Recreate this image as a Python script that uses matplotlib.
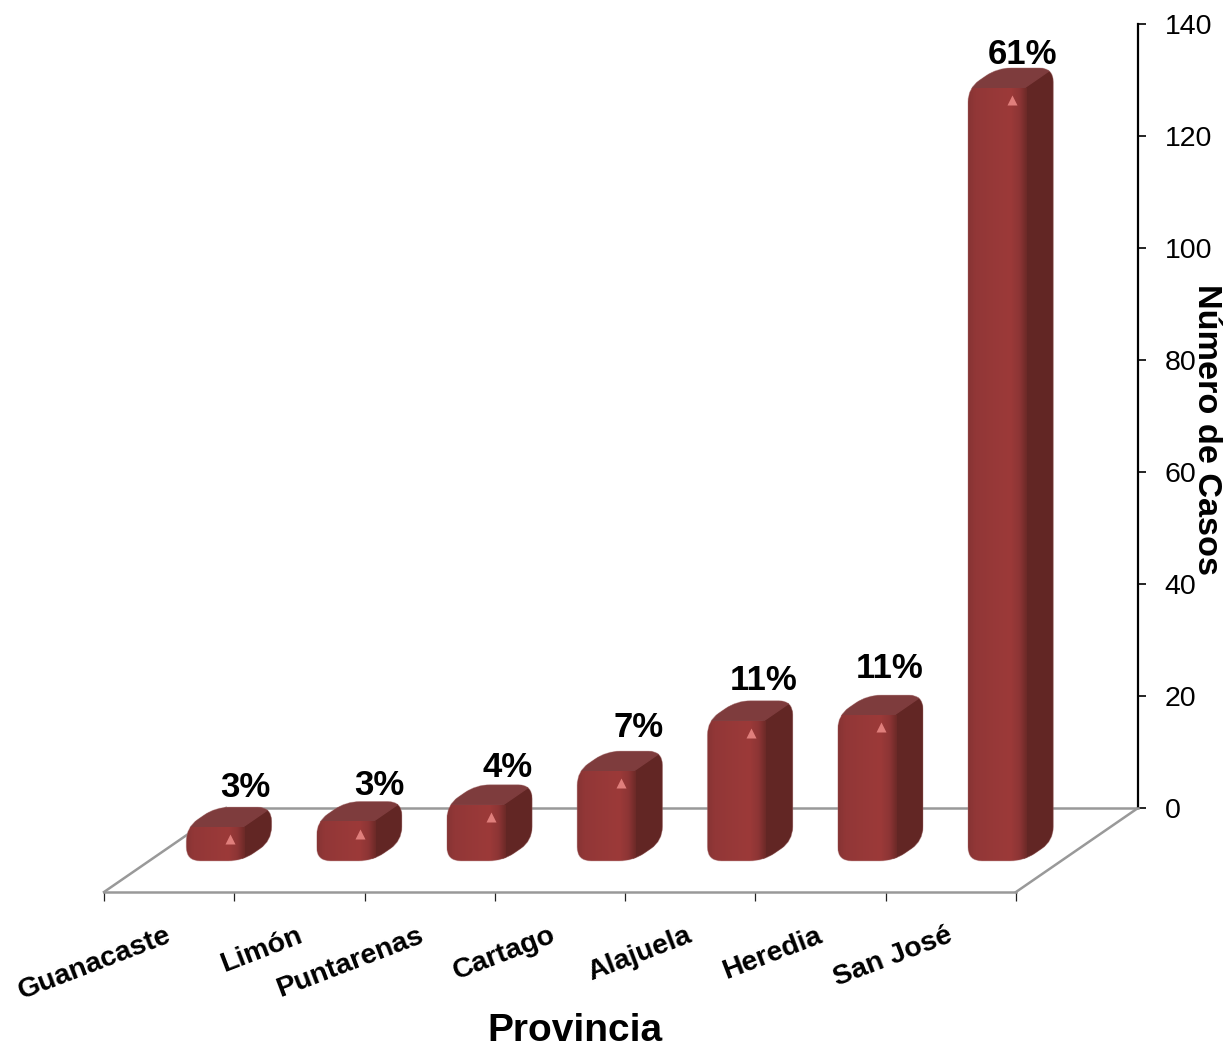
import numpy as np
import matplotlib
matplotlib.use('Agg')
import matplotlib.pyplot as plt
from matplotlib.path import Path
from matplotlib.patches import PathPatch, Polygon
from matplotlib.colors import LinearSegmentedColormap
from matplotlib.transforms import IdentityTransform

provincias = ['Guanacaste', 'Limón', 'Puntarenas', 'Cartago', 'Alajuela', 'Heredia', 'San José']
casos = [6, 7, 10, 16, 25, 26, 138]
porcentajes = ['3%', '3%', '4%', '7%', '11%', '11%', '61%']
y_ticks = [0, 20, 40, 60, 80, 100, 120, 140]

plt.rcParams['font.family'] = ['Liberation Sans', 'DejaVu Sans']

W, H = 1227, 1048
fig = plt.figure(figsize=(W / 100, H / 100), dpi=100)
px = IdentityTransform()

# depth of the floor in pixels, back wall to front edge
DEPTH_X, DEPTH_Y = 122, 84

# back wall axes, holds the value scale
ax = fig.add_axes([226 / W, (H - 808) / H, 912 / W, 784 / H])
ax.set_xlim(0, 7)
ax.set_ylim(0, 140)
ax.set_autoscale_on(False)
ax.patch.set_visible(False)
for s in ['left', 'top']:
    ax.spines[s].set_visible(False)
ax.spines['bottom'].set_color('#999999')
ax.spines['bottom'].set_linewidth(1.8)
ax.spines['right'].set_linewidth(1.6)
ax.set_xticks([])
ax.yaxis.tick_right()
ax.set_yticks(y_ticks)
ax.tick_params(axis='y', labelsize=20.5, length=6, width=1.2, pad=13)

# front edge axes, holds the category ticks
ax2 = fig.add_axes([104 / W, (H - 892) / H, 912 / W, 0.001])
ax2.set_xlim(0, 7)
ax2.patch.set_visible(False)
for s in ['left', 'top', 'right']:
    ax2.spines[s].set_visible(False)
ax2.spines['bottom'].set_color('#999999')
ax2.spines['bottom'].set_linewidth(1.8)
ax2.set_yticks([])
ax2.set_xticks(range(8))
ax2.set_xticklabels([])
ax2.tick_params(axis='x', length=6.5, width=0.9, color='#222222')


def project(x, v, d):
    p = ax.transData.transform((x, v))
    return p[0] - d * DEPTH_X, p[1] - d * DEPTH_Y


# side lines of the floor
for x in [0, 7]:
    p0 = project(x, 0, 0)
    p1 = project(x, 0, 1)
    ax.plot([p0[0], p1[0]], [p0[1], p1[1]], color='#999999', lw=1.8, transform=px, clip_on=False, zorder=1)


def rounded(points, r):
    verts, codes = [], []
    n = len(points)
    for i in range(n):
        p = np.array(points[i], float)
        a = np.array(points[i - 1], float)
        b = np.array(points[(i + 1) % n], float)
        ra = min(r, np.linalg.norm(a - p) / 2)
        rb = min(r, np.linalg.norm(b - p) / 2)
        start = p + (a - p) / np.linalg.norm(a - p) * ra
        end = p + (b - p) / np.linalg.norm(b - p) * rb
        verts.append(start)
        codes.append(Path.MOVETO if i == 0 else Path.LINETO)
        verts += [p, end]
        codes += [Path.CURVE3, Path.CURVE3]
    verts.append(verts[0])
    codes.append(Path.CLOSEPOLY)
    return Path(verts, codes)


shade = LinearSegmentedColormap.from_list('front', [(0, '#863434'), (0.12, '#923737'), (0.72, '#9c3a39'),
                                                    (0.88, '#8d3535'), (1, '#6e2a28')])
BAR_W = 0.43
D_FRONT, D_BACK = 0.63, 0.39

for i, v in enumerate(casos):
    x0 = i + 0.5 - BAR_W / 2
    x1 = i + 0.5 + BAR_W / 2
    a = project(x0, 0, D_FRONT)
    b = project(x1, 0, D_FRONT)
    c = project(x1, 0, D_BACK)
    d = project(x1, v, D_BACK)
    e = project(x0, v, D_BACK)
    f = project(x0, v, D_FRONT)
    g = project(x1, v, D_FRONT)
    outline = rounded([a, b, c, d, e, f], 14)

    side = Polygon([b, c, d, g], closed=True, fc='#622624', ec='#622624', transform=px, zorder=3)
    top = Polygon([f, g, d, e], closed=True, fc='#7e3c3d', ec='#7e3c3d', transform=px, zorder=3)
    ax.add_patch(side)
    ax.add_patch(top)

    im = ax.imshow(np.linspace(0, 1, 64).reshape(1, -1), cmap=shade, aspect='auto',
                   extent=(a[0], b[0] + 2, a[1], f[1]), transform=px, zorder=4)

    for art in [side, top, im]:
        art.set_clip_box(fig.bbox)
        art.set_clip_path(outline, px)

    ax.add_patch(PathPatch(outline, fc='none', ec='#a87070', lw=0.7, alpha=0.35, transform=px, zorder=5, clip_on=False))

    # little glint at the top of the front face
    ax.plot(a[0] + 0.78 * (b[0] - a[0]), f[1] - 12, marker='^', ms=7, mfc='#e07f7c', mec='none',
            transform=px, zorder=6, clip_on=False)

# label offsets from the left and the top of each bar, pixels
label_dx = [59, 63, 61, 61, 56, 52, 55]
label_dy = [20, 16, 17, 24, 20, 27, 13]
for i, v in enumerate(casos):
    xl = project(i + 0.5 - BAR_W / 2, 0, D_FRONT)[0]
    yt = project(0, v, D_BACK)[1]
    ax.text(xl + label_dx[i], yt + label_dy[i], porcentajes[i], transform=px, ha='center', va='center',
            fontsize=25, fontweight='bold', clip_on=False, zorder=7)

# category labels end under the middle of each slot, nudged in pixels
label_shift = [-6, -6, -15, -13, -7, -7, -7]
for i, name in enumerate(provincias):
    ax2.annotate(name, xy=(i + 0.5, 0), xycoords=('data', 'axes fraction'),
                 xytext=(2 + label_shift[i] * 0.72, -22), textcoords='offset points',
                 ha='right', va='top', rotation=21, rotation_mode='anchor',
                 fontsize=20.5, fontweight='bold', annotation_clip=False)

fig.text(575 / W, 1 - 1031 / H, 'Provincia', ha='center', va='center', fontsize=28, fontweight='bold')
fig.text(1206 / W, 1 - 430 / H, 'Número de Casos', ha='center', va='center', rotation=-90,
         fontsize=24.7, fontweight='bold')

fig.savefig('out.png', dpi=100)
